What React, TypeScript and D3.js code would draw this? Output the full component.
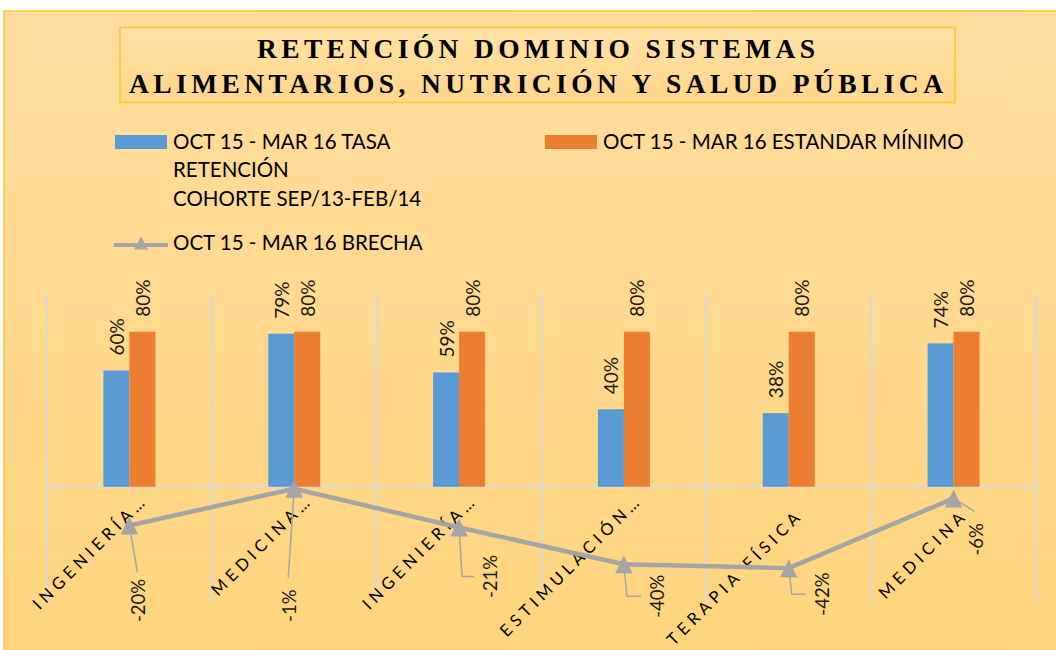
import { useMemo } from 'react';
import * as d3 from 'd3';

// datos
const categorias = ['INGENIERÍA…', 'MEDICINA…', 'INGENIERÍA…', 'ESTIMULACIÓN…', 'TERAPIA FÍSICA', 'MEDICINA'];
const tasaRetencion = [0.60, 0.79, 0.59, 0.40, 0.38, 0.74];
const estandarMinimo = [0.80, 0.80, 0.80, 0.80, 0.80, 0.80];
const brecha = [-0.20, -0.01, -0.21, -0.40, -0.42, -0.06];

const serieBarras = ['tasa', 'estandar'];
const coloresBarras = ['#5B9BD5', '#ED7D31'];
const colorLinea = '#A5A5A5';

const tituloLineas = ['RETENCIÓN DOMINIO SISTEMAS', 'ALIMENTARIOS, NUTRICIÓN Y SALUD PÚBLICA'];

// desplazamiento manual de las etiquetas de la brecha (px respecto al punto)
const offsetsBrecha: [number, number][] = [[9, 75], [-5, 117], [31, 49], [33, 32], [33, 26], [22, 41]];

const W = 1056;
const H = 650;
const fontSans = 'Lato, "Open Sans", sans-serif';
// Excel usa guion normal, no el signo menos unicode
const pct = (v: number) => `${Math.round(v * 100)}%`;

const triangulo = (w: number, h: number) => `M0,${-h / 2}L${w / 2},${h / 2}L${-w / 2},${h / 2}Z`;

export default function App() {
  const x0 = useMemo(() => d3.scaleBand<number>().domain(d3.range(categorias.length)).range([47, 1036]).padding(0), []);
  const x1 = useMemo(
    () => d3.scaleBand<string>().domain(serieBarras).range([0, x0.bandwidth()]).paddingInner(0).paddingOuter(2.17),
    [x0]
  );
  const y = useMemo(() => d3.scaleLinear().domain([-0.6, 1.0]).range([603, 293]), []);

  const puntos = brecha.map((v, i) => [x0(i)! + x0.bandwidth() / 2, y(v)] as [number, number]);
  const linea = d3.line()(puntos) || '';
  const [top, bottom] = y.range().slice().reverse();

  return (
    <svg width={W} height={H} style={{ position: 'absolute', left: 0, top: 0 }} fontFamily={fontSans}>
      <defs>
        <linearGradient id="fondo" x1="0" y1="0" x2="0" y2="1">
          <stop offset="0" stopColor="#FEDD9E" />
          <stop offset="1" stopColor="#FFD47D" />
        </linearGradient>
        <linearGradient id="fondoTitulo" x1="0" y1="0" x2="0" y2="1">
          <stop offset="0" stopColor="#FFE2A6" />
          <stop offset="1" stopColor="#FFD68A" />
        </linearGradient>
      </defs>
      <rect width={W} height={H} fill="#fff" />
      <rect x={4} y={11} width={W} height={H} fill="url(#fondo)" stroke="#FFC62E" strokeWidth={1.5} />

      {/* título */}
      <rect x={120} y={27.5} width={835} height={75} fill="url(#fondoTitulo)" stroke="#FFC62E" strokeWidth={1.5} />
      <g fontFamily='"Liberation Serif", "Times New Roman", serif' fontWeight="bold" fontSize={27.5} fill="#000">
        <text x={257} y={57.5} textLength={558} lengthAdjust="spacing">{tituloLineas[0]}</text>
        <text x={129} y={92.5} textLength={814} lengthAdjust="spacing">{tituloLineas[1]}</text>
      </g>

      {/* leyenda */}
      <g fontSize={20.5} fill="#000">
        <rect x={115} y={135} width={52} height={14} fill={coloresBarras[0]} />
        <text x={173} y={149}>OCT 15 - MAR 16 TASA</text>
        <text x={173} y={177}>RETENCIÓN</text>
        <text x={173} y={206}>COHORTE SEP/13-FEB/14</text>
        <rect x={545} y={135} width={52} height={14} fill={coloresBarras[1]} />
        <text x={603} y={149}>OCT 15 - MAR 16 ESTANDAR MÍNIMO</text>
        <line x1={114} x2={168} y1={245} y2={245} stroke={colorLinea} strokeWidth={4} />
        <path d={triangulo(14, 13)} transform="translate(141,243)" fill={colorLinea} />
        <text x={173} y={250}>OCT 15 - MAR 16 BRECHA</text>
      </g>

      {/* cuadrícula */}
      <g stroke="#D9D9D9" strokeWidth={2}>
        {d3.range(categorias.length + 1).map(i => {
          const gx = i < categorias.length ? x0(i)! : x0.range()[1];
          return <line key={i} x1={gx} x2={gx} y1={top} y2={bottom} />;
        })}
        <line x1={x0.range()[0]} x2={x0.range()[1]} y1={y(0)} y2={y(0)} />
      </g>

      {/* barras */}
      {categorias.map((_, i) => {
        const vals = [tasaRetencion[i], estandarMinimo[i]];
        return (
          <g key={i} transform={`translate(${x0(i)},0)`}>
            {serieBarras.map((s, j) => (
              <rect key={s} x={x1(s)} y={y(vals[j])} width={x1.bandwidth()} height={y(0) - y(vals[j])} fill={coloresBarras[j]} />
            ))}
            {serieBarras.map((s, j) => {
              const cx = x1(s)! + x1.bandwidth() / 2;
              const cy = y(vals[j]) - 15;
              return (
                <text key={s} transform={`translate(${cx},${cy}) rotate(-90)`} dominantBaseline="central" fontSize={19} fill="#1a1a1a">
                  {pct(vals[j])}
                </text>
              );
            })}
          </g>
        );
      })}

      {/* etiquetas del eje */}
      <g fontSize={16.5} letterSpacing={4.6} fill="#000">
        {categorias.map((c, i) => {
          const cx = x0(i)! + x0.bandwidth() / 2;
          const truncada = c.endsWith('…');
          const ax = cx + (truncada ? 11 : 7);
          const ay = y(0) + (truncada ? 6 : 21);
          return (
            <text key={i} transform={`translate(${ax},${ay}) rotate(-45)`} textAnchor="end" dy="0.72em">
              {c}
            </text>
          );
        })}
      </g>

      {/* líneas guía de la brecha */}
      <g stroke={colorLinea} strokeWidth={1.5} fill="none">
        {puntos.map(([px, py], i) => {
          const [dx, dy] = offsetsBrecha[i];
          const lx = px + dx;
          const ly = py + dy;
          const d = dx > 25 ? `M${lx - 16},${ly}H${px + 3}L${px},${py}` : `M${lx - 1},${ly - 28}L${px},${py}`;
          return <path key={i} d={d} />;
        })}
      </g>

      {/* línea de brecha */}
      <path d={linea} fill="none" stroke={colorLinea} strokeWidth={4.5} strokeLinejoin="round" />
      {puntos.map(([px, py], i) => (
        <path key={i} d={triangulo(17.5, 18)} transform={`translate(${px},${py})`} fill={colorLinea} />
      ))}

      <g fontSize={18.5} fill="#1a1a1a">
        {puntos.map(([px, py], i) => {
          const [dx, dy] = offsetsBrecha[i];
          return (
            <text key={i} transform={`translate(${px + dx},${py + dy}) rotate(-90)`} textAnchor="middle" dominantBaseline="central">
              {pct(brecha[i])}
            </text>
          );
        })}
      </g>
    </svg>
  );
}
